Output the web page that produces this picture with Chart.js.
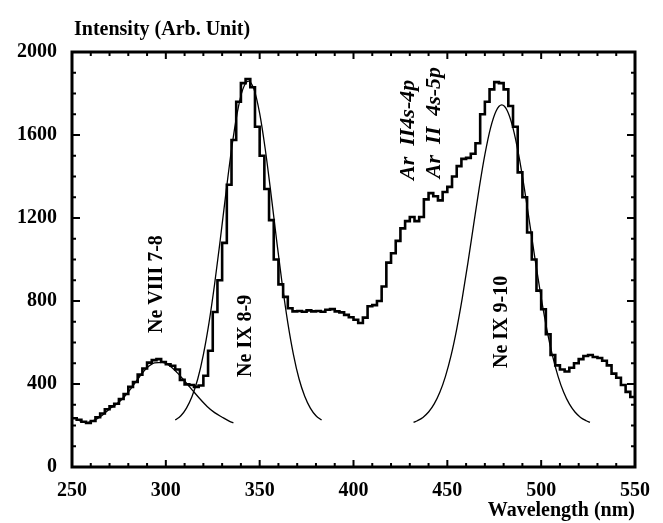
<!DOCTYPE html>
<html>
<head>
<meta charset="utf-8">
<script src="https://cdn.jsdelivr.net/npm/chart.js@4.4.0/dist/chart.umd.min.js"></script>
<style>
  html, body { margin: 0; padding: 0; background: #fff; }
  canvas { display: block; }
</style>
</head>
<body>
<canvas id="spectrumChart" width="663" height="523"></canvas>
<script>
// measured spectrum, 2.5 nm bins starting at 250 nm
var binStart = 250;
var binWidth = 2.5;
var counts = [
  235, 228, 218, 212,   222, 240, 258, 278,   292, 305, 328, 352,
  386, 410, 445, 475,   503, 515, 520, 506,   495, 488, 470, 420,
  398, 395, 386, 393,   440, 560, 747, 900,   1080, 1360, 1576, 1760,
  1850, 1870, 1830, 1640,   1500, 1340, 1190, 1000,   880, 820, 765, 750,
  752, 748, 755, 750,   752, 748, 758, 761,   750, 745, 733, 722,
  710, 694, 720, 775,   780, 800, 870, 985,   1030, 1090, 1150, 1185,
  1205, 1185, 1205, 1290,   1320, 1305, 1285, 1325,   1350, 1400, 1450, 1485,
  1490, 1510, 1560, 1700,   1760, 1820, 1855, 1850,   1820, 1740, 1640, 1420,
  1300, 1130, 1000, 850,   760, 640, 540, 490,   470, 460, 478, 500,
  520, 535, 540, 530,   525, 512, 490, 450,   430, 395, 362, 337
];

// fitted lines
var neVIIIx = [254, 258, 262, 266, 270, 274, 278, 282, 286, 290, 294, 298, 302, 306, 310, 314, 318, 322, 326, 330, 334, 336];
var neVIIIy = [222, 214, 226, 248, 280, 305, 340, 385, 435, 478, 502, 504, 488, 455, 415, 372, 330, 292, 262, 240, 220, 213];

var neIX89x = [305, 308, 311, 314, 317, 320, 323, 326, 329, 332, 335, 338, 341, 344, 347, 350, 353, 356, 359, 362, 365, 368, 371, 374, 377, 380, 383];
var neIX89y = [226, 247, 284, 341, 424, 542, 695, 882, 1095, 1319, 1530, 1704, 1820, 1860, 1820, 1704, 1530, 1319, 1095, 882, 695, 542, 424, 341, 284, 247, 226];

var neIX910x = [432, 434, 437, 440, 443, 446, 449, 452, 455, 458, 461, 464, 467, 470, 473, 476, 479, 482, 485, 488, 491, 494, 497, 500, 503, 506, 509, 512, 515, 518, 521, 524, 526];
var neIX910y = [215, 223, 239, 265, 304, 360, 437, 538, 665, 816, 986, 1167, 1345, 1505, 1633, 1716, 1745, 1716, 1633, 1505, 1345, 1167, 986, 816, 665, 538, 437, 360, 304, 265, 239, 223, 215];

// line identifications
var lineNames = ['Ne VIII 7-8', 'Ne IX 8-9', 'Ne IX 9-10', 'Ar  II4s-4p', 'Ar  II  4s-5p'];

var serif = '"Liberation Serif", "Times New Roman", serif';

function pts(xs, ys) {
  var out = [];
  for (var i = 0; i < xs.length; i++) out.push({x: xs[i], y: ys[i]});
  return out;
}

var histPts = [];
for (var i = 0; i < counts.length; i++) histPts.push({x: binStart + i * binWidth, y: counts[i]});
histPts.push({x: binStart + counts.length * binWidth, y: counts[counts.length - 1]});

// where the labels sit: [wavelength, intensity at text start, italic]
var labelSpots = [
  [295.3, 646, false],
  [342.7, 434, false],
  [479, 477, false],
  [429, 1383, true],
  [442.9, 1392, true]
];

var framePlugin = {
  id: 'frame',
  afterDraw: function (chart) {
    var ctx = chart.ctx, a = chart.chartArea;
    var xs = chart.scales.x, ys = chart.scales.y;
    ctx.save();
    ctx.strokeStyle = '#000';
    ctx.lineWidth = 2;
    ctx.beginPath();
    for (var v = 250; v <= 550; v += 10) {
      var px = xs.getPixelForValue(v);
      var len = (v % 50 === 0) ? 7 : 4;
      ctx.moveTo(px, a.bottom); ctx.lineTo(px, a.bottom - len);
      ctx.moveTo(px, a.top); ctx.lineTo(px, a.top + len);
    }
    for (var w = 0; w <= 2000; w += 100) {
      var py = ys.getPixelForValue(w);
      var l2 = (w % 400 === 0) ? 8 : 4;
      ctx.moveTo(a.left, py); ctx.lineTo(a.left + l2, py);
      ctx.moveTo(a.right, py); ctx.lineTo(a.right - l2, py);
    }
    ctx.stroke();
    ctx.lineWidth = 3;
    ctx.strokeRect(a.left, a.top, a.right - a.left, a.bottom - a.top);

    // rotated line labels
    ctx.fillStyle = '#000';
    ctx.textAlign = 'left';
    ctx.textBaseline = 'middle';
    for (var k = 0; k < lineNames.length; k++) {
      var s = labelSpots[k];
      ctx.save();
      ctx.translate(xs.getPixelForValue(s[0]), ys.getPixelForValue(s[1]));
      ctx.rotate(-Math.PI / 2);
      ctx.font = s[2] ? 'italic bold 22px ' + serif : 'bold 20px ' + serif;
      ctx.fillText(lineNames[k], 0, 0);
      ctx.restore();
    }

    // y axis title
    ctx.font = 'bold 20px ' + serif;
    ctx.textBaseline = 'alphabetic';
    ctx.fillText('Intensity (Arb. Unit)', 74, 35);
    ctx.restore();
  }
};

var fitStyle = {
  borderColor: '#000',
  borderWidth: 1.3,
  pointRadius: 0,
  fill: false,
  cubicInterpolationMode: 'monotone'
};

var config = {
  type: 'line',
  data: {
    datasets: [
      {
        label: 'Spectrum',
        data: histPts,
        borderColor: '#000',
        borderWidth: 2.6,
        pointRadius: 0,
        stepped: true,
        fill: false
      },
      Object.assign({label: 'Ne VIII 7-8 fit', data: pts(neVIIIx, neVIIIy)}, fitStyle),
      Object.assign({label: 'Ne IX 8-9 fit', data: pts(neIX89x, neIX89y)}, fitStyle),
      Object.assign({label: 'Ne IX 9-10 fit', data: pts(neIX910x, neIX910y)}, fitStyle)
    ]
  },
  options: {
    responsive: false,
    animation: false,
    layout: {padding: {top: 52, right: 28, left: 0, bottom: 0}},
    plugins: {legend: {display: false}, tooltip: {enabled: false}},
    scales: {
      x: {
        type: 'linear',
        min: 250,
        max: 550,
        grid: {display: false, drawTicks: false},
        border: {display: false},
        ticks: {
          stepSize: 50,
          padding: 12,
          color: '#000',
          font: {family: serif, size: 20, weight: 'bold'},
          callback: function (v) { return String(v); }
        },
        title: {
          display: true,
          text: 'Wavelength (nm)',
          align: 'end',
          color: '#000',
          padding: {top: 0, bottom: 0},
          font: {family: serif, size: 20, weight: 'bold'}
        },
        afterFit: function (s) { s.height = 56; }
      },
      y: {
        min: 0,
        max: 2000,
        grid: {display: false, drawTicks: false},
        border: {display: false},
        ticks: {
          stepSize: 400,
          padding: 15,
          color: '#000',
          font: {family: serif, size: 20, weight: 'bold'},
          callback: function (v) { return String(v); }
        },
        afterFit: function (s) { s.width = 72; }
      }
    }
  },
  plugins: [framePlugin]
};

var ctx = document.getElementById('spectrumChart');
window.spectrumChart = new Chart(ctx, config);
</script>
</body>
</html>
